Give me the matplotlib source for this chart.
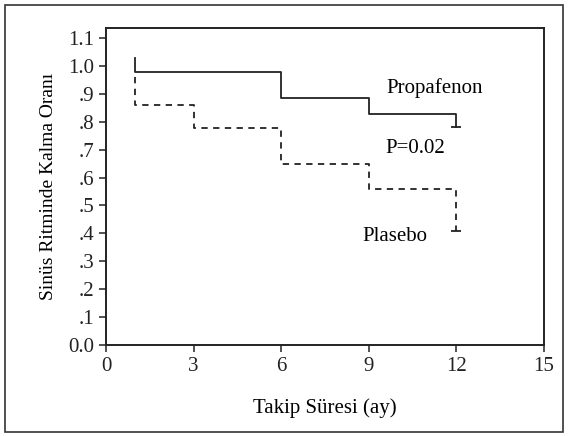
import matplotlib.pyplot as plt
from matplotlib.patches import Rectangle

# Kaplan-Meier style step data
prop_t = [1, 1, 6, 9, 12, 12]
prop_s = [1.03, 0.98, 0.885, 0.827, 0.827, 0.78]
plas_t = [1, 1, 3, 6, 9, 12, 12]
plas_s = [0.96, 0.86, 0.778, 0.65, 0.56, 0.56, 0.41]

xticks = [0, 3, 6, 9, 12, 15]
yticks = [0.0, 0.1, 0.2, 0.3, 0.4, 0.5, 0.6, 0.7, 0.8, 0.9, 1.0, 1.1]
ytick_labels = ["0.0", ".1", ".2", ".3", ".4", ".5", ".6", ".7", ".8", ".9", "1.0", "1.1"]

plt.rcParams['font.family'] = ['Liberation Serif', 'DejaVu Serif']

fig = plt.figure(figsize=(5.68, 4.36), dpi=100)
ax = fig.add_axes([0.1866, 0.2087, 0.7711, 0.7271])

# outer frame around the whole figure
fig.patches.append(Rectangle((0.009, 0.01), 0.982, 0.978, transform=fig.transFigure,
                             fill=False, edgecolor='#333333', linewidth=1.2))

ax.step(prop_t, prop_s, where='post', color='#222222', linewidth=1.3)
ax.step(plas_t, plas_s, where='post', color='#222222', linewidth=1.3,
        linestyle=(0, (3.5, 3)))
# censor marks at end of follow-up
ax.plot([prop_t[-1]], [prop_s[-1]], marker='_', color='#222222', markersize=7, mew=1.3)
ax.plot([plas_t[-1]], [plas_s[-1]], marker='_', color='#222222', markersize=7, mew=1.3)

ax.text(11.25, 0.92, "Propafenon", fontsize=15, ha='center', va='center')
ax.text(10.6, 0.705, "P=0.02", fontsize=15, ha='center', va='center')
ax.text(9.9, 0.39, "Plasebo", fontsize=15, ha='center', va='center')

ax.set_xlim(0, 15)
ax.set_ylim(0, 1.136)
ax.set_xticks(xticks)
ax.set_xticklabels([str(t) for t in xticks])
ax.set_yticks(yticks)
ax.set_yticklabels(ytick_labels)
ax.tick_params(direction='out', length=5, width=1.1, labelsize=15, colors='#222222')
for s in ax.spines.values():
    s.set_linewidth(1.4)
    s.set_color('#222222')

ax.set_xlabel("Takip Süresi (ay)", fontsize=15, labelpad=16)
ax.set_ylabel("Sinüs Ritminde Kalma Oranı", fontsize=14, labelpad=8)

fig.savefig("out.png", dpi=100)
